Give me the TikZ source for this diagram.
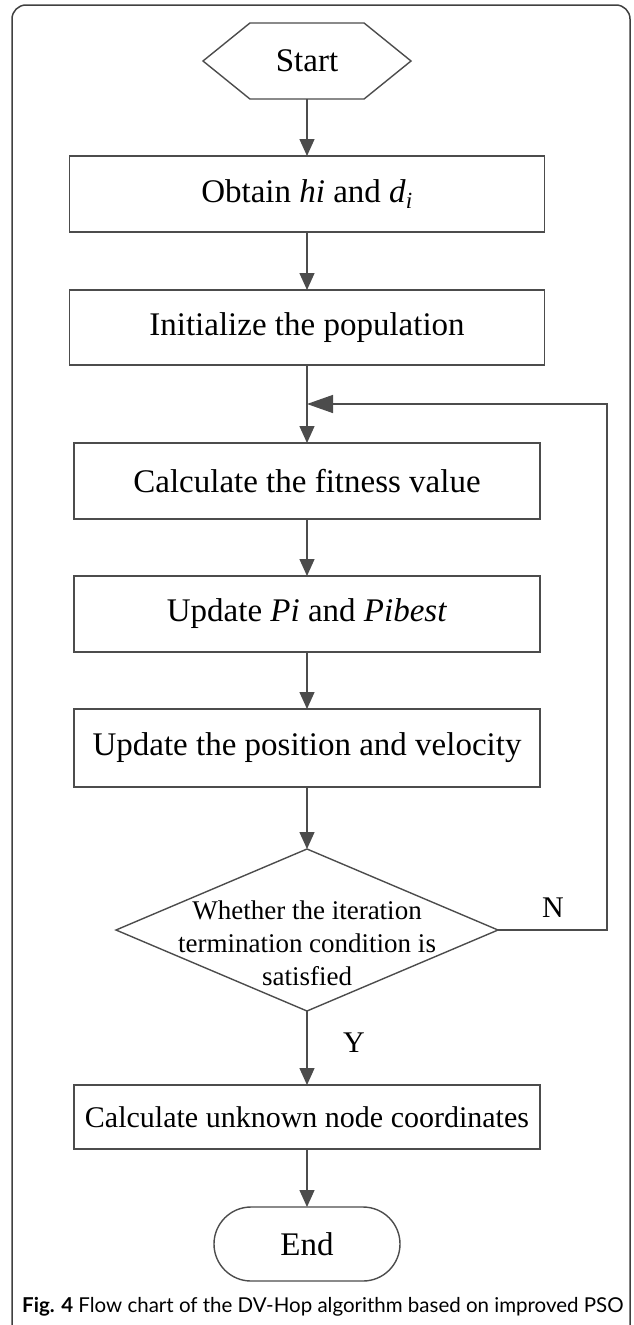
\documentclass[tikz,border=0pt]{standalone}
\usepackage{fontspec}
\setmainfont{Liberation Serif}
\newfontfamily\capfont{Lato}
\usetikzlibrary{arrows.meta,positioning,shapes.geometric,shapes.misc,shapes.symbols}

\begin{document}
\begin{tikzpicture}[x=1pt,y=1pt,
  >={Triangle[length=17pt,width=15pt]},
  flow/.style={->,draw=black!70,line width=1.4pt},
  proc/.style={rectangle,draw=black!70,line width=1.4pt,minimum width=466pt,minimum height=76pt,inner sep=0pt,outer sep=0pt,font=\fontsize{33}{38}\selectfont},
  startnode/.style={signal,signal to=west and east,signal pointer angle=78,draw=black!70,line width=1.4pt,minimum width=208pt,minimum height=76pt,inner sep=0pt,outer sep=0pt,font=\fontsize{33}{38}\selectfont},
  endnode/.style={rounded rectangle,draw=black!70,line width=1.4pt,minimum width=186pt,minimum height=74pt,inner sep=0pt,outer sep=0pt,font=\fontsize{33}{38}\selectfont},
  decision/.style={diamond,draw=black!70,line width=1.4pt,minimum width=382pt,minimum height=162pt,inner sep=0pt,outer sep=0pt},
  condtext/.style={align=center,inner sep=0pt,font=\fontsize{27}{33}\selectfont},
  yn/.style={font=\fontsize{30}{34}\selectfont}]

\useasboundingbox (0,0) rectangle (634,-1325);
\draw[black!75,line width=1.5pt,rounded corners=14pt] (12,-5) rectangle (630,-1345);

\node[startnode] (start) at (307,-61) {Start};
\node[proc,minimum width=475pt] (obtain) [below=57pt of start] {Obtain \textit{hi} and \textit{d}\textsubscript{\textit{i}}};
\node[proc,minimum width=475pt,minimum height=75pt] (init) [below=58pt of obtain] {Initialize the population};
\node[proc] (fit) [below=78pt of init] {Calculate the fitness value};
\node[proc] (upd) [below=57pt of fit] {Update \textit{Pi} and \textit{Pibest}};
\node[proc,minimum height=78pt] (pos) [below=57pt of upd] {Update the position and velocity};
\node[decision] (cond) [below=62pt of pos] {};
\node[condtext] (condtxt) at ([yshift=-13pt]cond.center) {Whether the iteration\\termination condition is\\satisfied};
\node[proc,minimum height=64pt,font=\fontsize{30}{36}\selectfont] (calc) [below=74pt of cond] {Calculate unknown node coordinates};
\node[endnode] (end) [below=58pt of calc] {End};

% loop back
\coordinate (join) at ([yshift=-39pt]init.south);
\coordinate (back) at ([xshift=300pt]join);

\draw[flow] (start) -- (obtain);
\draw[flow] (obtain) -- (init);
\draw[flow] (init) -- (fit);
\draw[flow] (fit) -- (upd);
\draw[flow] (upd) -- (pos);
\draw[flow] (pos) -- (cond);
\draw[flow] (cond) -- (calc);
\draw[flow] (calc) -- (end);
\draw[flow,>={Triangle[length=26pt,width=18pt]}] (cond.east) -| (back) -- (join);

\node[yn] (nlab) at ([xshift=55pt,yshift=22pt]cond.east) {N};
\node[yn] (ylab) at ([xshift=47pt,yshift=-32pt]cond.south) {Y};

\node[anchor=base west,inner sep=0pt,font=\capfont\fontsize{20.5}{24}\selectfont] (caption) at (22,-1312) {\textbf{Fig. 4} Flow chart of the DV-Hop algorithm based on improved PSO};
\end{tikzpicture}
\end{document}
